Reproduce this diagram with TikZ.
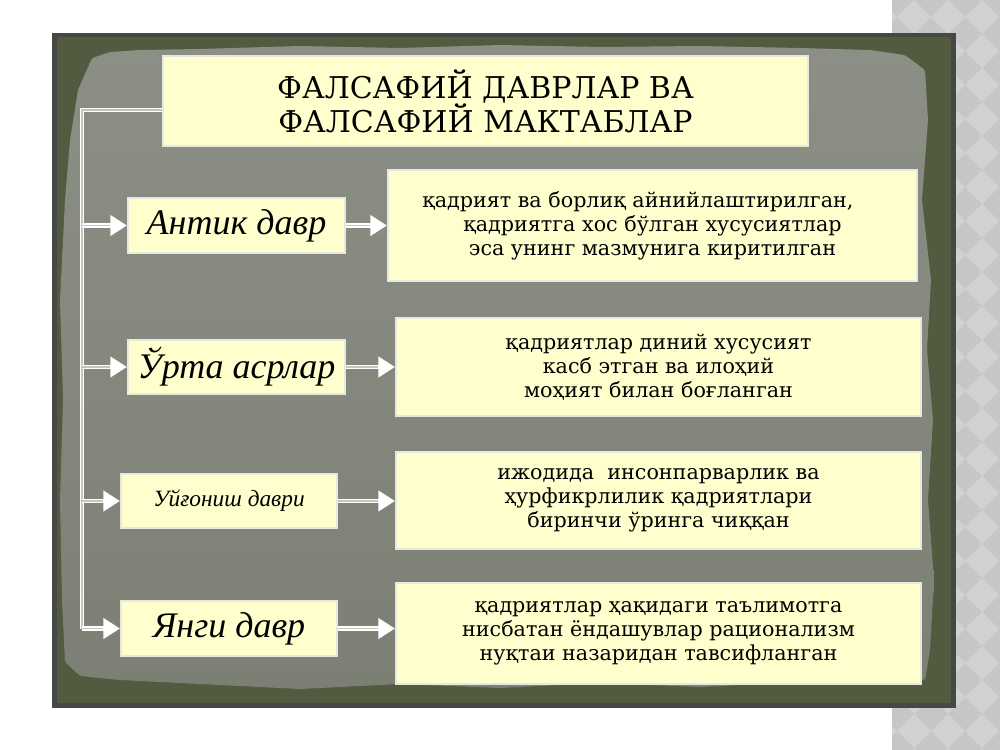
\documentclass[tikz,border=0pt]{standalone}
\usepackage{fontspec}
\setmainfont{Liberation Serif}
\newfontfamily\heavyserif{DejaVu Serif}
\usetikzlibrary{arrows.meta}

\definecolor{paperhi}{RGB}{140,143,133}
\definecolor{paper}{RGB}{124,128,116}
\definecolor{olive}{RGB}{82,90,63}
\definecolor{frame}{RGB}{70,72,70}
\definecolor{cream}{RGB}{255,255,206}
\definecolor{edge}{RGB}{232,232,222}
\definecolor{core}{RGB}{196,198,190}
\definecolor{stripa}{RGB}{198,198,198}
\definecolor{stripb}{RGB}{210,210,210}

\begin{document}
\begin{tikzpicture}[x=0.75pt,y=-0.75pt,
    box/.style={draw=edge, line width=1.5pt, fill=cream, align=center, inner sep=0pt},
    era/.style={box, font=\fontsize{27}{30}\selectfont\itshape},
    note/.style={box, font=\heavyserif\fontsize{15.5}{18}\selectfont},
    wire/.style={draw=white, line width=3.5pt, postaction={draw=core, line width=0.8pt}},
    link/.style={draw=white, line width=3.5pt, -{Triangle[length=12.5pt,width=15pt]},
                 postaction={draw=core, line width=0.8pt, -, shorten >=12.5pt}}]
    \useasboundingbox (0,0) rectangle (1000,750);
    \fill[white] (0,0) rectangle (1000,750);

%   gray strip on the right
    \fill[stripa] (892,0) rectangle (1000,750);
    \begin{scope}
        \clip (892,0) rectangle (1000,750);
        \foreach \i in {0,...,4}
            \foreach \j in {0,...,23}
                \fill[stripb] ({880+34*\i},{34*\j}) -- ++(17,17) -- ++(-17,17) -- ++(-17,-17) -- cycle;
    \end{scope}

%   board
    \fill[frame] (52,33) rectangle (956,708);
    \fill[olive] (57,37) rectangle (951,703);
    \shade[top color=paperhi, bottom color=paper, rounded corners=2pt] (92,58) -- (110,52) -- (140,50)
        -- (200,49) -- (300,46) -- (400,48) -- (500,45) -- (600,47) -- (700,46) -- (800,48)
        -- (870,50) -- (905,55) -- (925,70) -- (928,120) -- (922,200) -- (931,280) -- (927,350)
        -- (933,420) -- (928,500) -- (934,580) -- (930,650) -- (925,680) -- (880,684) -- (800,682)
        -- (700,687) -- (600,683) -- (500,688) -- (400,684) -- (300,689) -- (200,684)
        -- (120,680) -- (80,676) -- (65,662) -- (62,600) -- (60,500) -- (63,400)
        -- (60,300) -- (65,200) -- (70,140) -- (78,90) -- cycle;

    \node[box, font=\heavyserif\fontsize{22.5}{25.5}\selectfont, minimum width=483.75pt, minimum height=67.5pt]
        (title) at (485.5,101) {ФАЛСАФИЙ ДАВРЛАР ВА\\ФАЛСАФИЙ МАКТАБЛАР};

    \node[era, minimum width=162.75pt, minimum height=41.25pt] (anti) at (236.5,225.5) {Антик давр};
    \node[era, minimum width=162.75pt, minimum height=40.5pt] (urta) at (236.5,367) {Ўрта асрлар};
    \node[era, font=\fontsize{17.5}{20}\selectfont\itshape, minimum width=162pt, minimum height=40.5pt]
        (uygon) at (229,501) {Уйғониш даври};
    \node[era, minimum width=162pt, minimum height=41.25pt] (yangi) at (229,628.5) {Янги давр};

    \node[note, minimum width=396.75pt, minimum height=83.25pt] (anti-d) at (652.5,225.5)
        {қадрият ва борлиқ айнийлаштирилган,\hspace*{22pt}\\қадриятга хос бўлган хусусиятлар\hspace*{15pt}\\эса унинг мазмунига киритилган};
    \node[note, minimum width=393.75pt, minimum height=73.5pt] (urta-d) at (658.5,367)
        {қадриятлар диний хусусият\\касб этган ва илоҳий\\моҳият билан боғланган};
    \node[note, minimum width=393.75pt, minimum height=72.75pt] (uygon-d) at (658.5,500.5)
        {ижодида~ инсонпарварлик ва\\ҳурфикрлилик қадриятлари\\биринчи ўринга чиққан};
    \node[note, minimum width=393.75pt, minimum height=75.75pt] (yangi-d) at (658.5,633.5)
        {қадриятлар ҳақидаги таълимотга\\нисбатан ёндашувлар рационализм\\нуқтаи назаридан тавсифланган};

%   connectors
    \coordinate (top) at (82,110);
    \coordinate (bot) at (82,629);
    \draw[wire] (title.west |- top) -- (top) -- (bot);
    \foreach \n in {anti,urta,uygon,yangi} {
        \draw[link] (top |- \n) -- (\n);
        \draw[link] (\n) -- (\n.east -| \n-d.west);
    }

\end{tikzpicture}
\end{document}
